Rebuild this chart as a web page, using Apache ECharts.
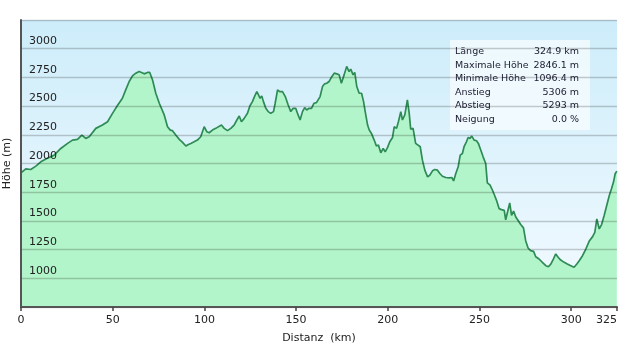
<!DOCTYPE html>
<html>
<head>
<meta charset="utf-8">
<script src="https://cdn.jsdelivr.net/npm/echarts@6/dist/echarts.min.js"></script>
<style>
html,body{margin:0;padding:0;background:#fff;}
#chart{width:620px;height:350px;}
</style>
</head>
<body>
<div id="chart"></div>
<script>
var distanceKm = [0,2.6,5.3,8.1,10.8,14.1,18.1,21.7,25.4,28.1,30.8,33.2,35.3,37.2,40.8,44.4,47.2,49.9,52.6,55.3,57.1,59.0,60.8,62.6,64.4,65.7,67.2,69.0,70.2,71.7,73.5,75.4,78.1,79.9,81.4,82.6,84.4,86.3,88.1,89.9,91.3,92.6,94.4,96.2,98.0,99.9,101.3,102.6,104.4,106.2,107.1,109.3,110.8,112.6,114.4,116.2,117.7,119.0,120.2,121.7,123.5,124.8,126.2,127.5,128.6,129.5,130.4,131.3,132.2,133.5,134.8,136.2,137.7,138.6,139.9,141.1,142.6,144.1,145.7,147.1,148.4,149.8,151.1,152.2,153.5,154.7,155.8,157.1,158.4,159.8,161.1,163.1,164.4,165.6,166.7,168.0,169.3,170.8,172.2,173.5,174.7,176.2,177.6,178.9,179.8,181.1,182.0,183.1,184.4,185.7,186.8,187.7,189.0,189.9,191.1,192.6,193.8,194.9,196.2,197.5,198.6,199.9,201.1,202.6,203.5,204.8,205.8,207.1,208.0,209.3,210.7,211.7,212.5,213.8,215.2,216.2,217.7,218.9,220.2,221.7,222.9,224.4,225.7,227.1,228.4,229.8,231.6,233.5,234.9,235.9,237.1,238.4,239.5,240.7,241.6,242.9,243.8,244.9,245.8,247.1,248.4,249.4,250.7,252.0,253.4,254.3,255.8,257.1,258.0,259.3,260.7,262.0,263.5,264.3,265.3,266.5,267.5,268.6,269.8,270.7,272.5,274.0,275.2,276.5,277.9,279.5,280.7,282.5,284.3,286.2,287.6,288.9,290.3,291.6,292.9,294.3,296.2,297.9,299.8,301.6,303.1,304.4,306.2,308.0,309.8,311.7,312.9,314.0,315.3,316.6,318.0,319.4,320.8,322.0,323.1,324.0,324.9];
var elevationM = [1918,1953,1948,1977,2015,2044,2073,2131,2175,2204,2210,2248,2219,2233,2306,2335,2364,2437,2505,2568,2641,2714,2763,2787,2801,2793,2781,2793,2793,2729,2612,2525,2423,2320,2291,2286,2248,2210,2184,2152,2166,2175,2189,2204,2233,2320,2277,2268,2291,2306,2310,2335,2306,2286,2306,2335,2379,2414,2364,2393,2437,2501,2539,2589,2626,2597,2568,2589,2539,2481,2452,2437,2452,2525,2641,2626,2626,2583,2510,2452,2481,2481,2423,2379,2452,2487,2466,2481,2481,2525,2530,2583,2670,2694,2699,2714,2752,2787,2781,2772,2699,2772,2846,2801,2822,2772,2793,2670,2612,2612,2539,2452,2335,2291,2262,2204,2152,2161,2093,2131,2102,2140,2189,2227,2320,2306,2364,2452,2379,2423,2554,2437,2300,2306,2175,2160,2146,2029,1942,1883,1898,1936,1948,1942,1913,1889,1878,1875,1878,1848,1913,1971,2073,2087,2146,2189,2227,2219,2239,2204,2198,2175,2117,2058,2000,1831,1811,1767,1732,1679,1607,1598,1592,1510,1519,1656,1548,1586,1534,1519,1468,1439,1328,1264,1241,1235,1188,1168,1139,1110,1101,1124,1168,1212,1183,1159,1139,1124,1110,1096,1124,1153,1197,1255,1322,1363,1401,1517,1430,1468,1547,1634,1721,1780,1838,1911,1934];
var infoLabels = ["Länge","Maximale Höhe","Minimale Höhe","Anstieg","Abstieg","Neigung"];
var infoValues = ["324.9 km","2846.1 m","1096.4 m","5306 m","5293 m","0.0 %"];
var xAxisName = "Distanz  (km)";
var yAxisName = "Höhe (m)";

var FONT = "DejaVu Sans";
var chart = echarts.init(document.getElementById('chart'), null, {renderer:'canvas'});
var seriesData = distanceKm.map(function(d,i){return [d, elevationM[i]];});

var infoEls = [{
  type:'rect', shape:{x:0,y:0,width:140,height:90},
  style:{fill:'rgba(255,255,255,0.62)'}
}];
infoLabels.forEach(function(l,i){
  infoEls.push({type:'text', style:{text:l, x:5, y:12+i*13.5, textAlign:'left', textVerticalAlign:'middle', font:'9.5px "DejaVu Sans"', fill:'#1c1c30'}});
  infoEls.push({type:'text', style:{text:infoValues[i], x:129, y:12+i*13.5, textAlign:'right', textVerticalAlign:'middle', font:'9.5px "DejaVu Sans"', fill:'#1c1c30'}});
});

chart.setOption({
  animation:false,
  grid:{left:21, right:3, top:20, bottom:43, show:true, borderWidth:0, containLabel:false, outerBoundsMode:'none',
    backgroundColor:{type:'linear',x:0,y:0,x2:0,y2:1,colorStops:[{offset:0,color:'#cdedfa'},{offset:1,color:'#f3faff'}]}},
  xAxis:{type:'value', min:0, max:325, interval:50,
    name:xAxisName, nameLocation:'middle', nameGap:26,
    nameTextStyle:{fontFamily:FONT, fontSize:11, color:'#222'},
    axisLine:{show:true, onZero:false, lineStyle:{color:'#555', width:2}},
    axisTick:{show:true, length:4, lineStyle:{color:'#444', width:1.5}},
    axisLabel:{fontFamily:FONT, fontSize:11, color:'#222', margin:8, alignMaxLabel:'right'},
    splitLine:{show:false}, z:3},
  yAxis:{type:'value', min:750, max:3250, interval:250,
    name:yAxisName, nameLocation:'middle', nameGap:1, nameRotate:90,
    nameTextStyle:{fontFamily:FONT, fontSize:11, color:'#222'},
    axisLine:{show:true, onZero:false, lineStyle:{color:'#555', width:2}},
    axisTick:{show:false},
    axisLabel:{inside:true, fontFamily:FONT, fontSize:11, color:'#222', margin:8, verticalAlign:'bottom', padding:[0,0,2,0],
      showMinLabel:false, showMaxLabel:false,
      formatter:function(v){return (v===750||v===3250)?'':String(v);}},
    splitLine:{show:true, lineStyle:{color:'rgba(0,0,0,0.2)', width:1.3}}, z:3},
  series:[{type:'line', data:seriesData, showSymbol:false, smooth:false,
    lineStyle:{color:'#2e8b55', width:1.7},
    areaStyle:{color:'#b3f5ca', opacity:1}, z:2}],
  graphic:[{type:'group', left:450, top:40, z:10, children:infoEls}]
});
</script>
</body>
</html>
